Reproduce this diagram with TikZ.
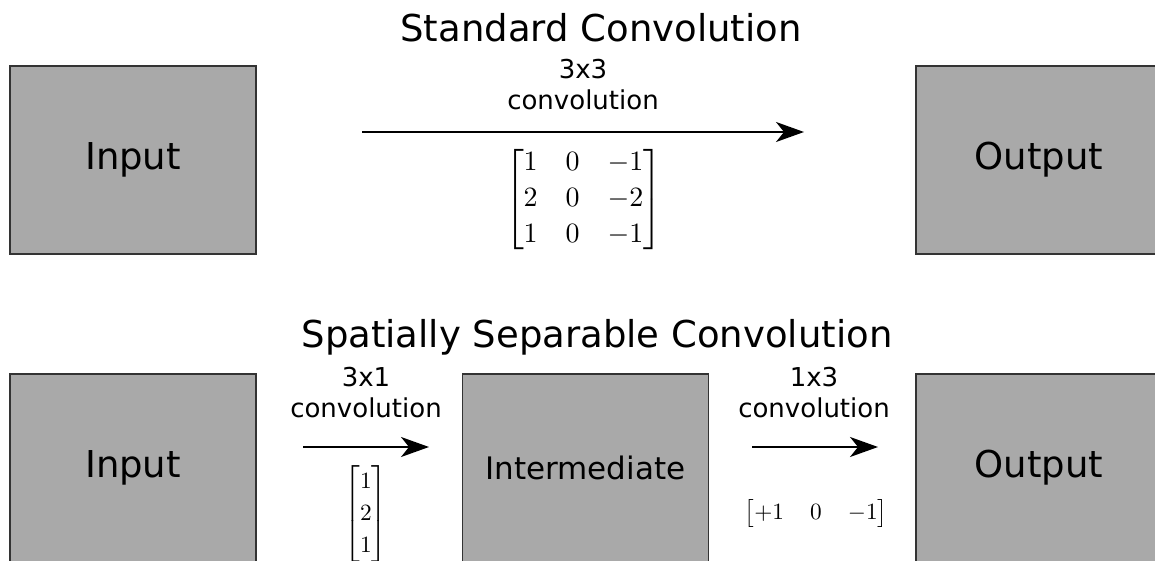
\documentclass[tikz,border=0pt]{standalone}
\usepackage{amsmath}
\usepackage{fontspec}
\setmainfont{DejaVu Sans}
\usetikzlibrary{arrows.meta}

\begin{document}
\begin{tikzpicture}[x=1pt, y=-1pt,
  block/.style={draw=black!80, line width=1.2pt, fill={rgb,255:red,169;green,169;blue,169},
    minimum width=246pt, minimum height=188pt, inner sep=0pt,
    font=\fontsize{37}{44}\selectfont},
  title/.style={anchor=base, inner sep=0pt, font=\fontsize{37}{44}\selectfont},
  lbl/.style={anchor=south, inner sep=0pt, align=center, font=\fontsize{26}{30.5}\selectfont},
  kernel/.style={inner sep=0pt, scale=2.33},
  conv/.style={line width=2pt, -{Stealth[length=28pt, width=20pt, inset=8pt]}}
]
\useasboundingbox (0,0) rectangle (1155,561);
\clip (0,0) rectangle (1155,561);

% --- standard convolution ---
\node[title] (t1) at (601,42) {Standard Convolution};
\node[block] (in1)  at (133,160)  {Input};
\node[block] (out1) at (1039,160) {Output};
\coordinate (a1s) at (362,132);
\coordinate (a1e) at (804,132);
\draw[conv] (a1s) -- (a1e);
\node[lbl] (l1) at (583,110) {3x3\\convolution};
\node[kernel, scale=1.2] (k1) at (583.5,199.5)
  {\renewcommand\arraystretch{1.08}%
   $\begin{bmatrix}1 & 0 & -1\\ 2 & 0 & -2\\ 1 & 0 & -1\end{bmatrix}$};

% --- spatially separable convolution ---
\node[title] (t2) at (597,347) {Spatially Separable Convolution};
\node[block] (in2)  at (133,468)   {Input};
\node[block, font=\fontsize{31}{37}\selectfont] (mid) at (585.5,468) {Intermediate};
\node[block] (out2) at (1039,468)  {Output};

\coordinate (a2s) at (303,447);
\coordinate (a2e) at (429,447);
\draw[conv] (a2s) -- (a2e);
\node[lbl] (l2) at (366,418) {3x1\\convolution};
\node[kernel] (k2) at (366,514)
  {\renewcommand\arraystretch{1.15}%
   $\begin{bmatrix}1\\ 2\\ 1\end{bmatrix}$};

\coordinate (a3s) at (752,447);
\coordinate (a3e) at (878,447);
\draw[conv] (a3s) -- (a3e);
\node[lbl] (l3) at (814,418) {1x3\\convolution};
\node[kernel] (k3) at (816,513.5)
  {\arraycolsep=5.6pt%
   $\begin{bmatrix}+1 & 0 & -1\end{bmatrix}$};
\end{tikzpicture}
\end{document}
